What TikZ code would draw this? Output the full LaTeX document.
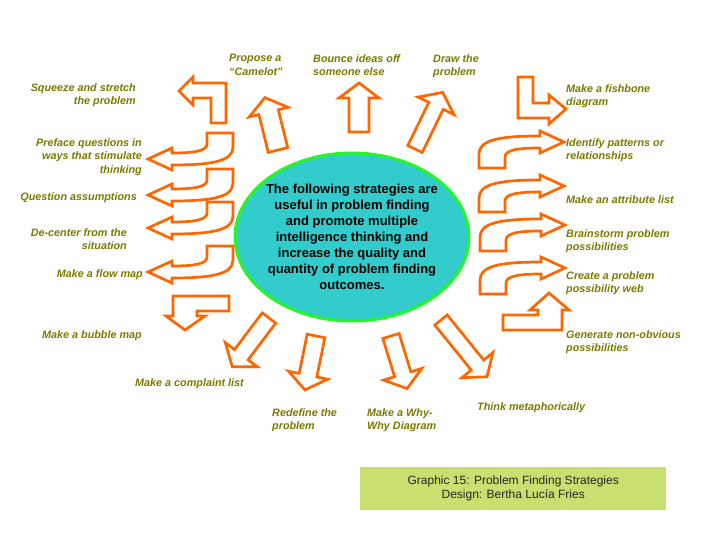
\documentclass[tikz,border=0pt]{standalone}
\usepackage{fontspec}
\setmainfont{Liberation Sans}
\usepackage{tikz}
\usepackage{color}

\definecolor{orangef}{RGB}{255,102,0}
\definecolor{olivef}{RGB}{122,122,0}
\definecolor{turquoise}{RGB}{51,204,204}
\definecolor{vertvif}{RGB}{40,245,40}
\definecolor{vertpale}{RGB}{200,224,112}

\tikzset{
  fleche/.style={draw=orangef, line width=2.7pt, fill=white, line join=miter},
  etiquette/.style={text=olivef, inner sep=0pt, font=\fontsize{10.8}{13.5}\selectfont\bfseries\itshape},
  gauche/.style={etiquette, anchor=north east, align=right},
  droite/.style={etiquette, anchor=north west, align=left},
}

% flèche droite : x, y (queue), angle, longueur, demi-largeur
\newcommand{\flechedroite}[5]{%
  \draw[fleche, shift={(#1,#2)}, rotate=#3] (0,-#5) -- (#4-15,-#5) -- (#4-15,-20) -- (#4,0)
    -- (#4-15,20) -- (#4-15,#5) -- (0,#5) -- cycle;}
% flèche courbe : x, y (pointe), rotation
\newcommand{\flechecourbe}[3]{%
  \draw[fleche, shift={(#1,#2)}, rotate=#3] (-85,26) -- (-85,12) .. controls (-85,-2) and (-65,-6) .. (-24,-6)
    -- (-24,-11) -- (0,0) -- (-24,11) -- (-24,6) .. controls (-46,6) and (-59,8) .. (-59,15) -- (-59,26) -- cycle;}

\begin{document}
\begin{tikzpicture}[x=1pt,y=-1pt]
\useasboundingbox (0,0) rectangle (720,540);
%					Ellipse centrale :
\draw[fill=turquoise, draw=vertvif, line width=3pt] (352,237) ellipse [x radius=117, y radius=84];
\node (centre) at (352,237) [align=center, inner sep=0pt, font=\fontsize{13}{16}\selectfont\bfseries]
  {The following strategies are\\useful in problem finding\\and promote multiple\\intelligence thinking and\\increase the quality and\\quantity of problem finding\\outcomes.};
%					Flèches en L :
\draw[fleche] (226,83) -- (193,83) -- (193,77) -- (179,91) -- (193,105) -- (193,98) -- (211,98) -- (211,123) -- (226,123) -- cycle;
\draw[fleche] (518,77) -- (533,77) -- (533,103) -- (549,103) -- (549,95) -- (566,109) -- (549,124) -- (549,118) -- (518,118) -- cycle;
\draw[fleche] (173,296) -- (229,296) -- (229,311) -- (197,311) -- (197,316) -- (205,316) -- (185,330) -- (166,316) -- (173,316) -- cycle;
\draw[fleche] (503,330) -- (503,315) -- (538,315) -- (538,310) -- (530,310) -- (549,293) -- (569,310) -- (562,310) -- (562,330) -- cycle;
%					Flèches droites :
\flechedroite{278}{150}{104}{54}{10}
\flechedroite{359}{132}{90}{49}{10}
\flechedroite{415}{149}{64}{63}{8}
\flechedroite{269}{318}{-127}{61}{8.5}
\flechedroite{316}{336}{-101.5}{55}{9}
\flechedroite{391}{336}{-73}{55}{8.5}
\flechedroite{441}{320}{-51}{73}{8}
%					Flèches courbes :
\flechecourbe{564}{142}{0}
\flechecourbe{564}{186}{0}
\flechecourbe{565}{225}{0}
\flechecourbe{565}{268}{0}
\flechecourbe{148}{159}{180}
\flechecourbe{148}{195}{180}
\flechecourbe{148}{228}{180}
\flechecourbe{148}{272}{180}
%					Étiquettes :
\node[droite] (propose) at (229,54) {Propose a\\“Camelot”};
\node[droite] (bounce) at (313,54) {Bounce ideas off\\someone else};
\node[droite] (dessin) at (433,54) {Draw the\\problem};
\node[gauche] (squeeze) at (136,83) {Squeeze and stretch\\the problem};
\node[gauche] (preface) at (142,138) {Preface questions in\\ways that stimulate\\thinking};
\node[gauche] (question) at (137,192) {Question assumptions};
\node[gauche] (decenter) at (127,228) {De-center from the\\situation};
\node[gauche] (flowmap) at (143,269) {Make a flow map};
\node[gauche] (bubble) at (142,330) {Make a bubble map};
\node[droite] (complaint) at (135,378) {Make a complaint list};
\node[droite] (redefine) at (272,408) {Redefine the\\problem};
\node[droite] (whywhy) at (367,408) {Make a Why-\\Why Diagram};
\node[droite] (metaphor) at (477,402) {Think metaphorically};
\node[droite] (fishbone) at (566,84) {Make a fishbone\\diagram};
\node[droite] (patterns) at (566,138) {Identify patterns or\\relationships};
\node[droite] (attribute) at (566,195) {Make an attribute list};
\node[droite] (brainstorm) at (566,229) {Brainstorm problem\\possibilities};
\node[droite] (web) at (566,271) {Create a problem\\possibility web};
\node[droite] (generate) at (566,330) {Generate non-obvious\\possibilities};
%					Légende :
\node[fill=vertpale, anchor=north west, minimum width=306pt, minimum height=43pt, align=center,
  text=black!85, font=\fontsize{12}{14}\selectfont] (legende) at (360,467)
  {Graphic 15: Problem Finding Strategies\\Design: Bertha Lucía Fries};
\end{tikzpicture}
\end{document}
